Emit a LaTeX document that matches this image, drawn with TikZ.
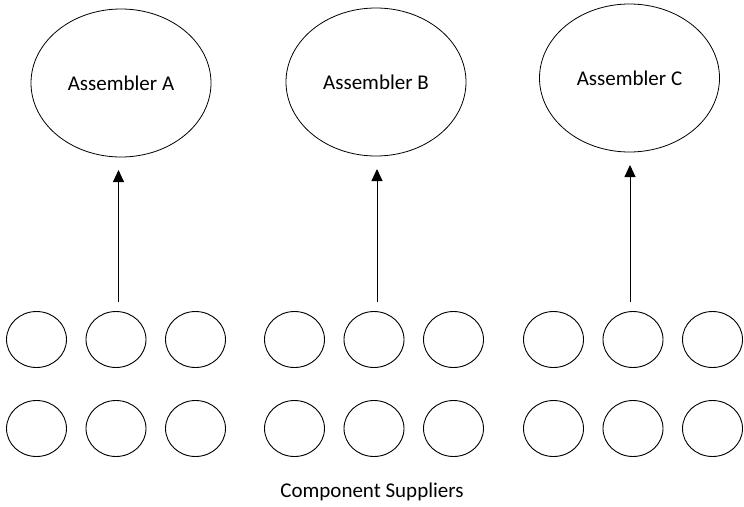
\documentclass[tikz,border=0pt]{standalone}
\usepackage{fontspec}
\setmainfont{Carlito}
\usetikzlibrary{arrows.meta, positioning, shapes.geometric}

\begin{document}
\begin{tikzpicture}[
  x=1pt, y=-1pt, font=\fontsize{21}{24}\selectfont, node distance=19.5pt,
  asm/.style={draw, ellipse, line width=0.8pt, inner sep=0pt, outer sep=0pt, minimum width=180pt, minimum height=148pt},
  sup/.style={draw, ellipse, line width=0.9pt, inner sep=0pt, outer sep=0pt, minimum width=60pt, minimum height=56pt},
  ar/.style={-{Triangle[length=12pt, width=11pt]}, line width=0.9pt}
]
\useasboundingbox (0,0) rectangle (744,506);
% assemblers
\node[asm] (asmA) at (121,83) {Assembler A};
\node[asm] (asmB) at (376,82) {Assembler B};
\node[asm] (asmC) at (629.5,78) {Assembler C};
% suppliers, upper row
\node[sup] (s11) at (36.5,339.5) {};
\node[sup, right=of s11] (s12) {};
\node[sup, right=of s12] (s13) {};
\node[sup] (s14) at (294.5,339.5) {};
\node[sup, right=of s14] (s15) {};
\node[sup, right=of s15] (s16) {};
\node[sup] (s17) at (553.5,339.5) {};
\node[sup, right=of s17] (s18) {};
\node[sup, right=of s18] (s19) {};
% suppliers, lower row
\node[sup, below=33pt of s11] (s21) {};
\node[sup, below=33pt of s12] (s22) {};
\node[sup, below=33pt of s13] (s23) {};
\node[sup, below=33pt of s14] (s24) {};
\node[sup, below=33pt of s15] (s25) {};
\node[sup, below=33pt of s16] (s26) {};
\node[sup, below=33pt of s17] (s27) {};
\node[sup, below=33pt of s18] (s28) {};
\node[sup, below=33pt of s19] (s29) {};
\node (lbl) at (372,492) {Component Suppliers};
\draw[ar, shorten <=9.5pt, shorten >=13pt] ([xshift=2.5pt]s12.north) -- ([xshift=2.5pt]s12.north |- asmA.south);
\draw[ar, shorten <=9.5pt, shorten >=13pt] ([xshift=3pt]s15.north) -- ([xshift=3pt]s15.north |- asmB.south);
\draw[ar, shorten <=9.5pt, shorten >=13pt] ([xshift=-3pt]s18.north) -- ([xshift=-3pt]s18.north |- asmC.south);
\end{tikzpicture}
\end{document}
